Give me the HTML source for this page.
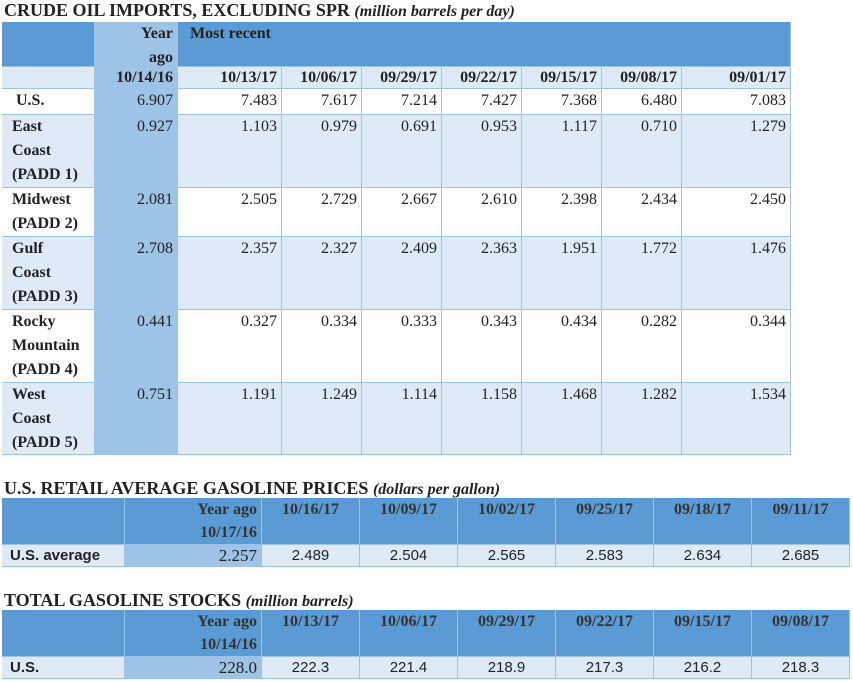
<!DOCTYPE html>
<html><head><meta charset="utf-8"><style>
body{margin:0;width:853px;height:682px;background:#fff;position:relative;overflow:hidden;font-family:"Liberation Serif",serif;color:#222}
.c{position:absolute;box-sizing:border-box;font-size:16px;line-height:24px;padding:0 4px;white-space:nowrap}
.t{position:absolute;font-weight:bold;font-size:18px;font-family:"Liberation Serif",serif;white-space:nowrap}
.t i{font-size:16px}
</style></head><body>
<div class="t" style="left:4px;top:0px">CRUDE OIL IMPORTS, EXCLUDING SPR <i>(million barrels per day)</i></div>
<div class="t" style="left:4px;top:478px">U.S. RETAIL AVERAGE GASOLINE PRICES <i>(dollars per gallon)</i></div>
<div class="t" style="left:4px;top:590px">TOTAL GASOLINE STOCKS <i>(million barrels)</i></div>
<script>
const dark='#5b9bd5',light='#deebf7',mid='#9dc3e6',line='#9dc3e6';
function cell(x,y,w,h,bg,html,align,bold,sans){
  const d=document.createElement('div');
  d.className='c';
  d.style.cssText='left:'+x+'px;top:'+y+'px;width:'+w+'px;height:'+h+'px;background:'+bg+';text-align:'+align+';font-weight:'+(bold?'bold':'normal')+';'+(sans?'font-family:"Liberation Sans",sans-serif;font-size:15px;':'')+'border-right:1px solid '+line+';border-bottom:1px solid '+line+';';
  d.innerHTML=html;
  
  
  document.body.appendChild(d);
  return d;
}
const t1Dates=['10/13/17','10/06/17','09/29/17','09/22/17','09/15/17','09/08/17','09/01/17'];
const t1Rows=['&nbsp;U.S.','East<br>Coast<br>(PADD 1)','Midwest<br>(PADD 2)','Gulf<br>Coast<br>(PADD 3)','Rocky<br>Mountain<br>(PADD 4)','West<br>Coast<br>(PADD 5)'];
const t1Year=['6.907','0.927','2.081','2.708','0.441','0.751'];
const t1Vals=[
['7.483','7.617','7.214','7.427','7.368','6.480','7.083'],
['1.103','0.979','0.691','0.953','1.117','0.710','1.279'],
['2.505','2.729','2.667','2.610','2.398','2.434','2.450'],
['2.357','2.327','2.409','2.363','1.951','1.772','1.476'],
['0.327','0.334','0.333','0.343','0.434','0.282','0.344'],
['1.191','1.249','1.114','1.158','1.468','1.282','1.534']];
const xs=[2,95,178,282,362,442,522,602,682,791];
const ys=[89,115,188,237,310,383,455];
cell(2,22,93,45,dark,'','left',true);
cell(95,22,83,45,mid,'Year<br>ago','right',true);
cell(178,22,613,45,dark,'&nbsp;&nbsp;Most recent','left',true);
cell(2,67,93,22,light,'','left',true);
cell(95,67,83,22,mid,'10/14/16','right',true).style.lineHeight='22px';
t1Dates.forEach((d,i)=>{const c=cell(xs[i+2],67,xs[i+3]-xs[i+2],22,light,d,'right',true);c.style.lineHeight='22px';});
t1Rows.forEach((r,ri)=>{
  const y=ys[ri],h=ys[ri+1]-ys[ri],bg=ri%2?light:'#fff';
  cell(2,y,93,h,bg,r,'left',true).style.paddingLeft='10px';
  cell(95,y,83,h,mid,t1Year[ri],'right',false);
  t1Vals[ri].forEach((v,i)=>cell(xs[i+2],y,xs[i+3]-xs[i+2],h,bg,v,'right',false));
});
function small(y,dates,yearLabel,rowLabel,yearVal,vals){
  cell(2,y,123,47,dark,'','left',true);
  const yl=cell(125,y,137,47,dark,yearLabel,'right',true);yl.style.color='#333';yl.style.lineHeight='23px';
  const bx=[262,360,458,556,654,752,850];
  dates.forEach((d,i)=>{const c=cell(bx[i],y,bx[i+1]-bx[i],47,dark,d,'center',true);c.style.color='#333';c.style.lineHeight='23px';});
  const c1=cell(2,y+47,123,22,light,rowLabel,'left',true,true);c1.style.lineHeight='22px';c1.style.paddingLeft='8px';
  const c2=cell(125,y+47,137,22,mid,yearVal,'right',false);c2.style.lineHeight='22px';c2.style.fontSize='17px';
  vals.forEach((v,i)=>{const c=cell(bx[i],y+47,bx[i+1]-bx[i],22,light,v,'center',false,true);c.style.lineHeight='22px';});
}
const t2Dates=['10/16/17','10/09/17','10/02/17','09/25/17','09/18/17','09/11/17'];
const t2Vals=['2.489','2.504','2.565','2.583','2.634','2.685'];
small(498,t2Dates,'Year ago<br>10/17/16','U.S. average','2.257',t2Vals);
const t3Dates=['10/13/17','10/06/17','09/29/17','09/22/17','09/15/17','09/08/17'];
const t3Vals=['222.3','221.4','218.9','217.3','216.2','218.3'];
small(610,t3Dates,'Year ago<br>10/14/16','U.S.','228.0',t3Vals);
</script>
</body></html>
